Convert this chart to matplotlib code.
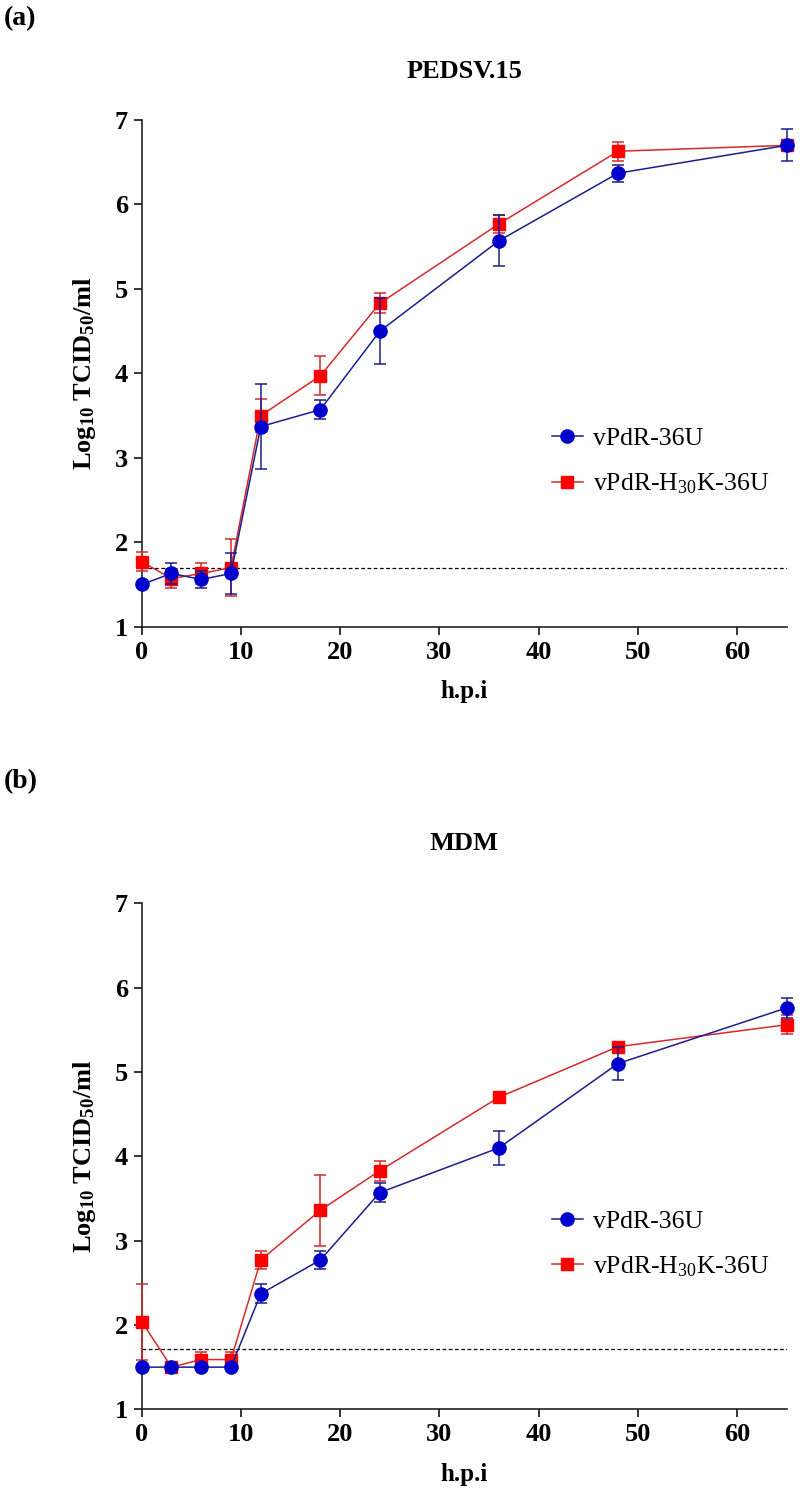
"""
Growth curves of vPdR-36U and vPdR-H30K-36U in PEDSV.15 and MDM cells
"""

import numpy as np
import matplotlib
matplotlib.use("Agg")
import matplotlib.pyplot as plt
from matplotlib.lines import Line2D

plt.rcParams['font.family'] = ['Liberation Serif', 'DejaVu Serif']
plt.rcParams['mathtext.default'] = 'regular'

hpi = [0, 3, 6, 9, 12, 18, 24, 36, 48, 65]
series_names = ["vPdR-36U", "vPdR-H$_{30}$K-36U"]
detection_limit = [1.7, 1.72]
panel_titles = ["PEDSV.15", "MDM"]
panel_tags = ["(a)", "(b)"]

# PEDSV.15
a_wt_mean = [1.50, 1.63, 1.56, 1.63, 3.37, 3.57, 4.50, 5.57, 6.37, 6.70]
a_wt_sd = [0.03, 0.12, 0.10, 0.24, 0.50, 0.11, 0.39, 0.30, 0.10, 0.19]
a_mut_mean = [1.77, 1.57, 1.63, 1.70, 3.50, 3.97, 4.83, 5.77, 6.63, 6.70]
a_mut_sd = [0.11, 0.11, 0.12, 0.34, 0.20, 0.23, 0.12, 0.11, 0.11, 0.03]

# MDM
b_wt_mean = [1.50, 1.50, 1.50, 1.50, 2.37, 2.77, 3.57, 4.10, 5.10, 5.76]
b_wt_sd = [0.03, 0.03, 0.03, 0.03, 0.11, 0.11, 0.11, 0.20, 0.20, 0.12]
b_mut_mean = [2.04, 1.50, 1.59, 1.59, 2.77, 3.36, 3.83, 4.70, 5.30, 5.56]
b_mut_sd = [0.45, 0.03, 0.09, 0.09, 0.11, 0.42, 0.12, 0.03, 0.03, 0.11]

W, H = 800, 1499
fig = plt.figure(figsize=(W / 100, H / 100), dpi=100)

ax_pos = [(141.7, 120.0, 786.7, 626.7), (141.7, 903.3, 786.7, 1409.3)]
data = [(a_wt_mean, a_wt_sd, a_mut_mean, a_mut_sd),
        (b_wt_mean, b_wt_sd, b_mut_mean, b_mut_sd)]
legend_y = [0.326, 0.326]
tag_y = [19, 782]
title_y = [72, 843]

wt_line, wt_face = "#1c1c8c", "#0000cc"
mut_line, mut_face = "#d42a2a", "#ff0000"

for k in range(2):
    x0, y0, x1, y1 = ax_pos[k]
    ax = fig.add_axes([x0 / W, 1 - y1 / H, (x1 - x0) / W, (y1 - y0) / H])
    wt_m, wt_s, mut_m, mut_s = data[k]

    ax.axhline(detection_limit[k], color="black", ls=(0, (3, 2)), lw=0.9, zorder=1)

    ax.errorbar(hpi, mut_m, yerr=mut_s, color=mut_line, lw=1.1,
                marker="s", ms=8.5, mfc=mut_face, mec=mut_face,
                capsize=4.5, elinewidth=1.1, capthick=1.1,
                clip_on=False, zorder=3)
    ax.errorbar(hpi, wt_m, yerr=wt_s, color=wt_line, lw=1.1,
                marker="o", ms=9.5, mfc=wt_face, mec=wt_face,
                capsize=4.5, elinewidth=1.1, capthick=1.1,
                clip_on=False, zorder=4)

    ax.set_xlim(0, 65)
    ax.set_ylim(1, 7)
    ax.set_xticks([0, 10, 20, 30, 40, 50, 60])
    ax.set_yticks([1, 2, 3, 4, 5, 6, 7])
    for s in ["top", "right"]:
        ax.spines[s].set_visible(False)
    for s in ["left", "bottom"]:
        ax.spines[s].set_linewidth(1.2)
        ax.spines[s].set_color("#222222")
    ax.tick_params(direction="out", length=6, width=1.1, labelsize=19, pad=4)
    for lab in ax.get_xticklabels() + ax.get_yticklabels():
        lab.set_fontweight("bold")

    ax.set_xlabel("h.p.i", fontsize=18, fontweight="bold", labelpad=12)
    ax.set_ylabel("Log$_{10}$ TCID$_{50}$/ml", fontsize=19, fontweight="bold", labelpad=12)

    handles = [
        Line2D([], [], color=wt_line, lw=1.1, marker="o", ms=9.5,
               mfc=wt_face, mec=wt_face),
        Line2D([], [], color=mut_line, lw=1.1, marker="s", ms=8.5,
               mfc=mut_face, mec=mut_face),
    ]
    ax.legend(handles, series_names, loc="center left",
              bbox_to_anchor=(0.6, legend_y[k]), frameon=False,
              fontsize=18.5, handlelength=1.2, handletextpad=0.4,
              labelspacing=0.85)

    fig.text(4 / W, 1 - tag_y[k] / H, panel_tags[k], fontsize=20,
             fontweight="bold", va="center", ha="left")
    fig.text((x0 + x1) / 2 / W, 1 - title_y[k] / H, panel_titles[k],
             fontsize=19, fontweight="bold", va="center", ha="center")

fig.savefig("out.png", dpi=100)
